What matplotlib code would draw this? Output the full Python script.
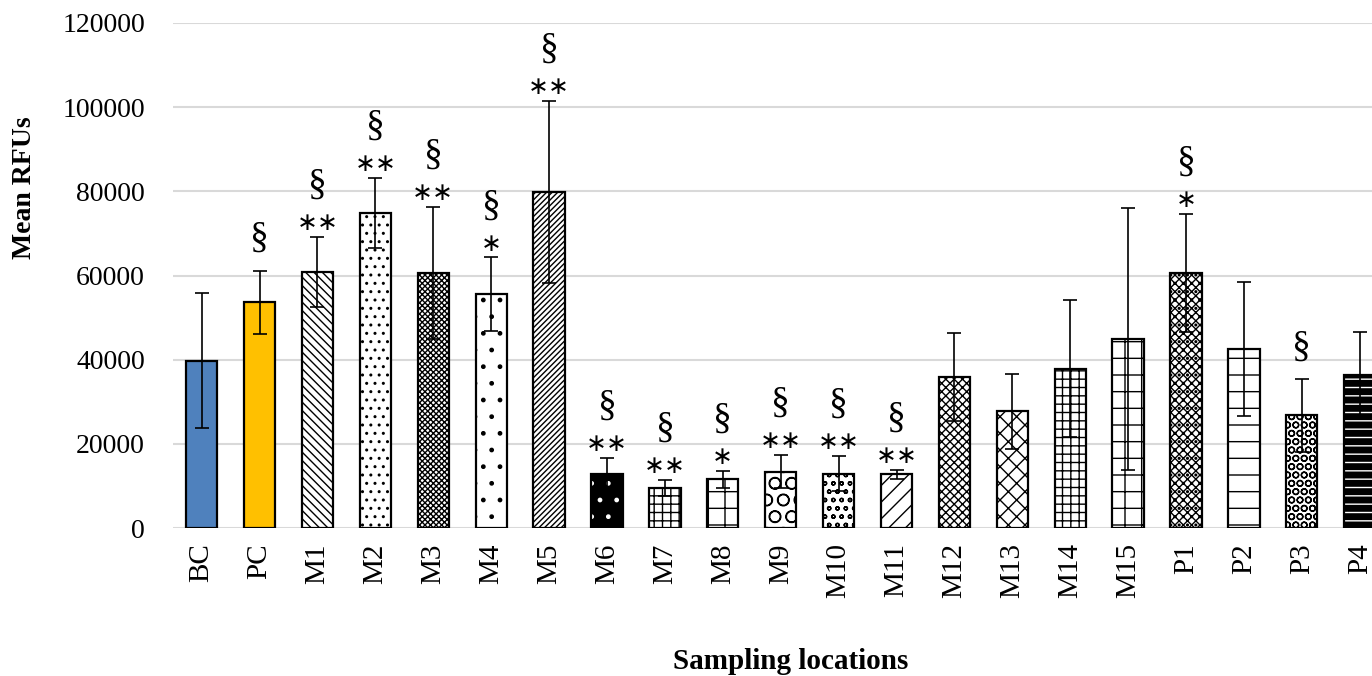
import matplotlib.pyplot as plt

plt.rcParams['font.family'] = ['Liberation Serif', 'DejaVu Serif']
plt.rcParams['hatch.linewidth'] = 1.0

locations = ['BC', 'PC', 'M1', 'M2', 'M3', 'M4', 'M5', 'M6', 'M7', 'M8', 'M9',
             'M10', 'M11', 'M12', 'M13', 'M14', 'M15', 'P1', 'P2', 'P3', 'P4']
mean_rfu = [39750, 53600, 60800, 74800, 60550, 55550, 79900, 12900, 9500, 11550, 13400,
            12900, 12800, 35850, 27700, 37900, 45000, 60550, 42450, 26750, 36450]
sd_rfu = [16100, 7550, 8400, 8300, 15700, 8750, 21650, 3800, 1900, 2050, 4000,
          4150, 1050, 10450, 8850, 16300, 31100, 14000, 15950, 8650, 10200]
stars = ['', '', '**', '**', '**', '*', '**', '**', '**', '*', '**',
         '**', '**', '', '', '', '', '*', '', '', '']
section = ['', '§', '§', '§', '§', '§', '§', '§', '§', '§', '§',
           '§', '§', '', '', '', '', '§', '', '§', '']

# fill colour, hatch colour, hatch
styles = [
    ('#4F81BD', 'black', ''), ('#FFC000', 'black', ''),
    ('white', 'black', '\\\\\\\\'), ('white', 'black', '..'),
    ('white', 'black', 'xxxxxx'), ('white', 'black', '.'),
    ('white', 'black', '//////'), ('black', 'white', '.'),
    ('white', 'black', '++'), ('white', 'black', '+'),
    ('white', 'black', 'O'), ('white', 'black', 'oo'),
    ('white', 'black', '//'), ('white', 'black', 'xxxx'),
    ('white', 'black', 'xx'), ('white', 'black', '++'),
    ('white', 'black', '+'), ('white', 'black', 'xxxx..'),
    ('white', 'black', '-'), ('white', 'black', 'OO'),
    ('black', 'white', '--'),
]

fig = plt.figure(figsize=(13.72, 6.76), dpi=100)
ax = fig.add_axes([172.7 / 1372, 148 / 676, 1216 / 1372, 505 / 676])

x = list(range(len(locations)))
for i in x:
    fc, hc, h = styles[i]
    ax.bar(i, mean_rfu[i], width=0.54, color=fc, edgecolor=hc, hatch=h, linewidth=0, zorder=2)
ax.bar(x, mean_rfu, width=0.54, fill=False, edgecolor='black', linewidth=1.6, zorder=3)
ax.errorbar(x, mean_rfu, yerr=sd_rfu, fmt='none', ecolor='black', elinewidth=1.2,
            capsize=4.7, capthick=1.2, zorder=4)

for i in x:
    top = mean_rfu[i] + sd_rfu[i]
    if stars[i]:
        ax.annotate(stars[i].replace('*', '∗'), (i, top), xytext=(0, 10), textcoords='offset points',
                    ha='center', va='center', fontsize=18, family=['DejaVu Sans'])
        ax.annotate(section[i], (i, top), xytext=(0, 37), textcoords='offset points',
                    ha='center', va='center', fontsize=27)
    elif section[i]:
        ax.annotate(section[i], (i, top), xytext=(0, 23), textcoords='offset points',
                    ha='center', va='center', fontsize=27)

ax.set_xlim(-0.5, len(locations) - 0.5)
ax.set_ylim(0, 120000)
ax.set_yticks(range(0, 120001, 20000))
ax.yaxis.grid(True, color='#D9D9D9', linewidth=1.5, zorder=0)
ax.set_axisbelow(True)
for s in ax.spines.values():
    s.set_visible(False)
ax.tick_params(length=0, labelsize=20)
ax.tick_params(axis='y', pad=20)
ax.tick_params(axis='x', labelsize=21, pad=11)
ax.set_xticks(x)
ax.set_xticklabels(locations, rotation=90)
ax.set_ylabel('Mean RFUs', fontsize=20, fontweight='bold')
ax.yaxis.set_label_coords(-135.7 / 1216, 340 / 505)
ax.set_xlabel('Sampling locations', fontsize=21, fontweight='bold')
ax.xaxis.set_label_coords(618 / 1216, -120 / 505)

fig.savefig('out.png', dpi=100)
